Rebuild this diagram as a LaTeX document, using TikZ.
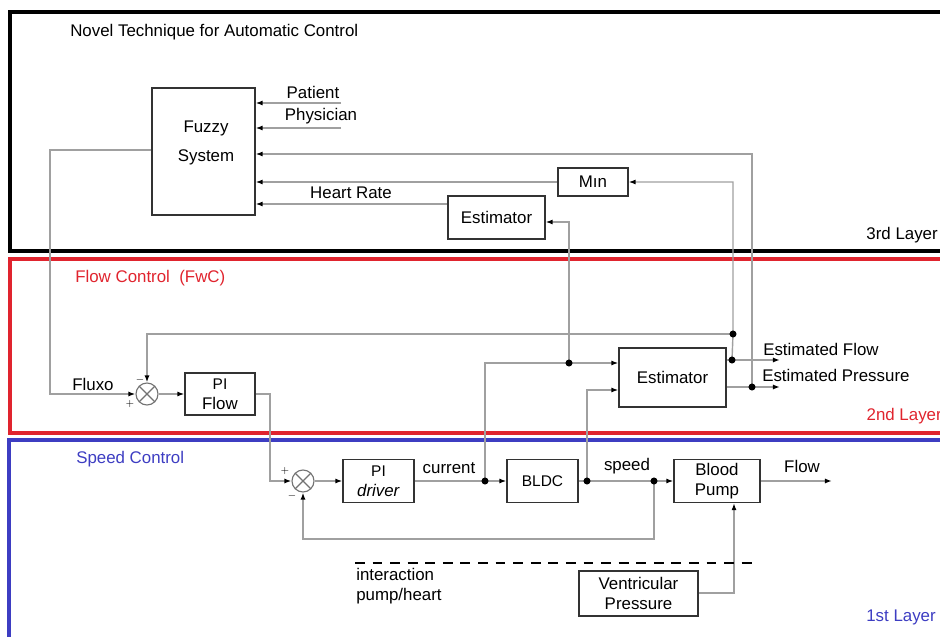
\documentclass[tikz,border=0pt]{standalone}
\usepackage{fontspec}
\setmainfont{Liberation Sans}
\usetikzlibrary{arrows.meta,positioning,backgrounds}
\definecolor{layerred}{HTML}{E0242E}
\definecolor{layerblue}{HTML}{3D3DC2}
\definecolor{wirecol}{HTML}{A0A0A0}

\begin{document}
\begin{tikzpicture}[x=0.025cm,y=-0.025cm,
  font=\fontsize{12}{14}\selectfont,
  blk/.style={draw=black!80,line width=0.9pt,fill=white,align=center,inner sep=0pt},
  txt/.style={inner sep=0pt},
  sgn/.style={inner sep=0pt,font=\fontsize{7}{8}\selectfont},
  sum/.style={circle,draw=black!55,line width=0.8pt,fill=white,minimum size=0.55cm,inner sep=0pt,
              path picture={\draw[black!55,line width=0.8pt]
                (path picture bounding box.north west)--(path picture bounding box.south east)
                (path picture bounding box.north east)--(path picture bounding box.south west);}},
  wire/.style={draw=wirecol,line width=1pt},
  arr/.style={wire,-{Latex[length=5pt,width=3.6pt,color=black]}},
  dot/.style={circle,fill=black,inner sep=0pt,minimum size=5pt},
  layer/.style={line width=2.7pt}
]
\useasboundingbox (0,0) rectangle (940,637);
\clip (0,0) rectangle (940,637);

% layer titles
\node[txt,anchor=west] (title) at (70,32) {Novel Technique for Automatic Control};
\node[txt,anchor=east] (lay3) at (938,235) {3rd Layer};
\node[txt,anchor=west,text=layerred] (fwc) at (75,278) {Flow Control\ \ (FwC)};
\node[txt,anchor=east,text=layerred] (lay2) at (942,416) {2nd Layer};
\node[txt,anchor=west,text=layerblue] (spdctl) at (76,459) {Speed Control};
\node[txt,anchor=east,text=layerblue] (lay1) at (936,617) {1st Layer};

% blocks
\node[blk,minimum width=2.575cm,minimum height=3.175cm] (fuzzy) at (203.5,151.5) {};
\node[txt,align=center] (fuzzytxt) at (206,143) {Fuzzy\\[7pt]System};
\node[blk,minimum width=1.75cm,minimum height=0.7cm] (min) at (593,182) {Mın};
\node[blk,minimum width=2.425cm,minimum height=1.075cm] (est3) at (496.5,217.5) {Estimator};
\node[blk,minimum width=1.75cm,minimum height=1.05cm] (piflow) at (220,394)
  {{\fontsize{11}{12}\selectfont PI}\\Flow};
\node[blk,minimum width=2.675cm,minimum height=1.475cm] (est2) at (672.5,377.5) {Estimator};
\node[blk,minimum width=1.775cm,minimum height=1.075cm] (pidrv) at (378.5,481)
  {{\fontsize{11}{12}\selectfont PI}\\\textit{driver}};
\node[blk,minimum width=1.775cm,minimum height=1.075cm,font=\fontsize{11}{13}\selectfont] (bldc) at (542.5,481) {BLDC};
\node[blk,minimum width=2.15cm,minimum height=1.075cm] (pump) at (717,481) {Blood\\Pump};
\node[blk,minimum width=2.975cm,minimum height=1.125cm] (vent) at (638.5,593.5) {Ventricular\\Pressure};

% summing points
\node[sum] (sum1) at (147,394) {};
\node[sum] (sum2) at (303,481) {};
\node[sgn] (s1m) at (140,380) {$-$};
\node[sgn] (s1p) at (130,404) {$+$};
\node[sgn] (s2p) at (285,471) {$+$};
\node[sgn] (s2m) at (292,496) {$-$};

% branch points
\node[dot] (jcur) at (485,481) {};
\node[dot] (jspd) at (587,481) {};
\node[dot] (jfb) at (654,481) {};
\node[dot] (jest) at (569,363) {};
\node[dot] (jflow) at (732,360) {};
\node[dot] (jfwc) at (733,334) {};
\node[dot] (jpres) at (752,387) {};

% signal labels
\node[txt] (patient) at (313,92) {Patient};
\node[txt] (physician) at (321,116) {Physician};
\node[txt] (hrate) at (351,193) {Heart Rate};
\node[txt] (fluxo) at (93,384) {Fluxo};
\node[txt] (current) at (449,468) {current};
\node[txt] (speed) at (627,466) {speed};
\node[txt] (flow) at (802,466) {Flow};
\node[txt,anchor=west] (estflow) at (763,349) {Estimated Flow};
\node[txt,anchor=west] (estpres) at (762,375) {Estimated Pressure};
\node[txt,anchor=north west,align=left] (inter) at (356,568) {interaction\\pump/heart};

\coordinate (patin) at (341,103);
\coordinate (phyin) at (341,128);
\coordinate (tpres) at (752,154);
\coordinate (tmin) at (733,182);
\coordinate (hr) at (448,204);
\coordinate (test) at (569,222);
\coordinate (fzout) at (50,150);
\coordinate (fzdown) at (50,394);
\coordinate (pfc) at (270,394);
\coordinate (pfd) at (270,481);
\coordinate (cur) at (485,363);
\coordinate (spdup) at (587,390);
\coordinate (fbr) at (654,539);
\coordinate (fbl) at (303,539);
\coordinate (fwcl) at (147,334);
\coordinate (flowout) at (780,360);
\coordinate (presout) at (780,387);
\coordinate (pumpout) at (832,481);
\coordinate (ventc) at (734,593);
\coordinate (dashl) at (355,563);
\coordinate (dashr) at (753,563);

\begin{scope}[on background layer]
\draw[layer] (10,12) rectangle (990,251);
\draw[layer,layerred] (10,259) rectangle (990,433);
\draw[layer,layerblue] (9,440) rectangle (990,670);

\draw[arr] (patin) -- (patin -| fuzzy.east);
\draw[arr] (phyin) -- (phyin -| fuzzy.east);
\draw[arr] (jpres.center) -- (tpres) -- (tpres -| fuzzy.east);
\draw[arr] (min.west) -- (min.west -| fuzzy.east);
\draw[arr] (hr) -- (hr -| fuzzy.east);
\draw[arr] (jflow.center) -- (jfwc.center) -- (tmin) -- (min.east);
\draw[arr] (jfwc.center) -- (fwcl) -- (sum1.north);
\draw[arr] (jest.center) -- (test) -- (test -| est3.east);
\draw[arr] (fzout -| fuzzy.west) -- (fzout) -- (fzdown) -- (sum1.west);
\draw[arr] (sum1) -- (piflow);
\draw[arr] (piflow.east) -- (pfc) -- (pfd) -- (sum2.west);
\draw[arr] (sum2) -- (pidrv);
\draw[arr] (pidrv.east) -- (bldc.west);
\draw[arr] (jcur.center) -- (cur) -- (cur -| est2.west);
\draw[arr] (bldc.east) -- (pump.west);
\draw[arr] (jspd.center) -- (spdup) -- (spdup -| est2.west);
\draw[arr] (jfb.center) -- (fbr) -- (fbl) -- (sum2.south);
\draw[arr] (pump.east) -- (pumpout);
\draw[arr] (vent.east |- ventc) -- (ventc) -- (ventc |- pump.south);
\draw[arr] (est2.east |- jflow) -- (flowout);
\draw[arr] (est2.east |- jpres) -- (presout);
\draw[line width=0.9pt,dash pattern=on 7pt off 5.5pt] (dashl) -- (dashr);
\end{scope}
\end{tikzpicture}
\end{document}
